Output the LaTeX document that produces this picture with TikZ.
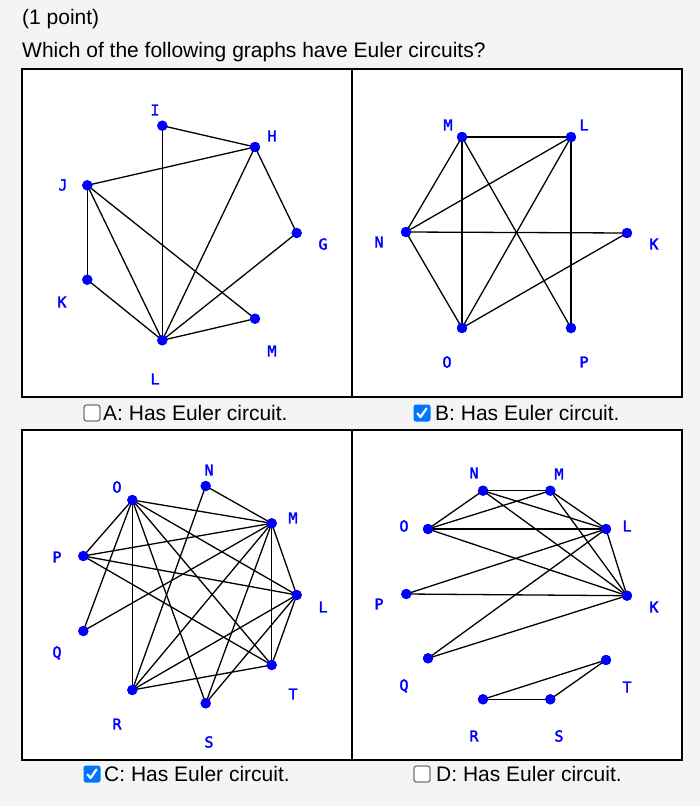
\documentclass[tikz,border=0pt]{standalone}
\usepackage{fontspec}
\setmainfont{Liberation Sans}
\newfontfamily\lblfont{DejaVu Sans Mono}[FakeBold=2.5]
\definecolor{pagebg}{HTML}{F4F4F4}
\definecolor{vblue}{HTML}{0000FF}
\definecolor{chkblue}{HTML}{0075FF}
\definecolor{boxgray}{HTML}{767676}
\begin{document}
\begin{tikzpicture}[x=1pt,y=-1pt,
  vtx/.style={circle,fill=vblue,inner sep=0pt,minimum size=10pt},
  lbl/.style={text=vblue,font=\lblfont\fontsize{15}{15}\selectfont,inner sep=0pt},
  edge/.style={line width=1.3pt,black},
  panel/.style={draw=black,line width=1.8pt,fill=white},
  txt/.style={font=\fontsize{21}{25}\selectfont,inner sep=0pt,anchor=west,text=black},
  boxoff/.style={draw=boxgray,line width=1.3pt,fill=white,rounded corners=2.5pt,minimum size=16pt,inner sep=0pt},
  boxon/.style={fill=chkblue,rounded corners=2.5pt,minimum size=17pt,inner sep=0pt}
]
\fill[pagebg] (0,0) rectangle (700,806);
\useasboundingbox (0,0) rectangle (700,806);

\node[txt] (t1) at (22,19) {(1 point)};
\node[txt] (t2) at (22,52) {Which of the following graphs have Euler circuits?};

% panels
\draw[panel] (22,69) rectangle (352,397);
\draw[panel] (352,69) rectangle (682,397);
\draw[panel] (22,430) rectangle (352,760);
\draw[panel] (352,430) rectangle (682,760);

% ---------- Panel A ----------
\node[vtx] (aI) at (162.3,125.7) {};
\node[vtx] (aH) at (255,147) {};
\node[vtx] (aJ) at (87.3,185.3) {};
\node[vtx] (aG) at (296.7,233) {};
\node[vtx] (aK) at (87.3,279.7) {};
\node[vtx] (aM) at (255,318.7) {};
\node[vtx] (aL) at (162.3,340.3) {};
\node[lbl] (laI) at (155,110) {I};
\node[lbl] (laH) at (272,136) {H};
\node[lbl] (laJ) at (63,185) {J};
\node[lbl] (laG) at (323,244) {G};
\node[lbl] (laK) at (62,302) {K};
\node[lbl] (laM) at (272,351) {M};
\node[lbl] (laL) at (155,379) {L};
\draw[edge] (aI.center) -- (aH.center);
\draw[edge] (aI.center) -- (aL.center);
\draw[edge] (aH.center) -- (aJ.center);
\draw[edge] (aH.center) -- (aL.center);
\draw[edge] (aH.center) -- (aG.center);
\draw[edge] (aJ.center) -- (aK.center);
\draw[edge] (aJ.center) -- (aL.center);
\draw[edge] (aJ.center) -- (aM.center);
\draw[edge] (aK.center) -- (aL.center);
\draw[edge] (aG.center) -- (aL.center);
\draw[edge] (aM.center) -- (aL.center);

% ---------- Panel B ----------
\node[vtx] (bM) at (462,137) {};
\node[vtx] (bL) at (571,137) {};
\node[vtx] (bN) at (406,232) {};
\node[vtx] (bK) at (627,233) {};
\node[vtx] (bO) at (462,328) {};
\node[vtx] (bP) at (571,328) {};
\node[lbl] (lbM) at (448,125) {M};
\node[lbl] (lbL) at (584,125) {L};
\node[lbl] (lbN) at (379,242) {N};
\node[lbl] (lbK) at (654,244) {K};
\node[lbl] (lbO) at (447,362) {O};
\node[lbl] (lbP) at (584,362) {P};
\draw[edge] (bM.center) -- (bL.center);
\draw[edge] (bM.center) -- (bN.center);
\draw[edge] (bM.center) -- (bO.center);
\draw[edge] (bM.center) -- (bP.center);
\draw[edge] (bL.center) -- (bN.center);
\draw[edge] (bL.center) -- (bO.center);
\draw[edge] (bL.center) -- (bP.center);
\draw[edge] (bN.center) -- (bK.center);
\draw[edge] (bN.center) -- (bO.center);
\draw[edge] (bO.center) -- (bK.center);

% ---------- Panel C ----------
\node[vtx] (cN) at (205.7,486) {};
\node[vtx] (cO) at (132.3,500) {};
\node[vtx] (cM) at (271.7,523.3) {};
\node[vtx] (cP) at (83.3,556) {};
\node[vtx] (cL) at (296.7,595) {};
\node[vtx] (cQ) at (83.3,631) {};
\node[vtx] (cT) at (271.7,665) {};
\node[vtx] (cR) at (132.3,690) {};
\node[vtx] (cS) at (205.7,703.3) {};
\node[lbl] (lcN) at (209,470) {N};
\node[lbl] (lcO) at (117,487) {O};
\node[lbl] (lcM) at (293,518) {M};
\node[lbl] (lcP) at (57,557) {P};
\node[lbl] (lcL) at (323,607) {L};
\node[lbl] (lcQ) at (57,653) {Q};
\node[lbl] (lcT) at (293,694) {T};
\node[lbl] (lcR) at (117,724) {R};
\node[lbl] (lcS) at (209,742) {S};
\draw[edge] (cN.center) -- (cM.center);
\draw[edge] (cN.center) -- (cR.center);
\draw[edge] (cO.center) -- (cM.center);
\draw[edge] (cO.center) -- (cL.center);
\draw[edge] (cO.center) -- (cT.center);
\draw[edge] (cO.center) -- (cS.center);
\draw[edge] (cO.center) -- (cR.center);
\draw[edge] (cO.center) -- (cQ.center);
\draw[edge] (cO.center) -- (cP.center);
\draw[edge] (cP.center) -- (cM.center);
\draw[edge] (cP.center) -- (cL.center);
\draw[edge] (cP.center) -- (cT.center);
\draw[edge] (cQ.center) -- (cM.center);
\draw[edge] (cM.center) -- (cR.center);
\draw[edge] (cM.center) -- (cS.center);
\draw[edge] (cM.center) -- (cT.center);
\draw[edge] (cM.center) -- (cL.center);
\draw[edge] (cL.center) -- (cR.center);
\draw[edge] (cL.center) -- (cS.center);
\draw[edge] (cL.center) -- (cT.center);
\draw[edge] (cR.center) -- (cT.center);

% ---------- Panel D ----------
\node[vtx] (dN) at (483,490.7) {};
\node[vtx] (dM) at (550.3,490.7) {};
\node[vtx] (dO) at (428,529) {};
\node[vtx] (dL) at (606,529) {};
\node[vtx] (dP) at (406.3,594) {};
\node[vtx] (dK) at (627,595.7) {};
\node[vtx] (dQ) at (428,658.3) {};
\node[vtx] (dT) at (606,660) {};
\node[vtx] (dR) at (483,699.3) {};
\node[vtx] (dS) at (550.3,699.3) {};
\node[lbl] (ldN) at (474,473) {N};
\node[lbl] (ldM) at (559,474) {M};
\node[lbl] (ldO) at (404,526) {O};
\node[lbl] (ldL) at (627,526) {L};
\node[lbl] (ldP) at (379,604) {P};
\node[lbl] (ldK) at (654,607) {K};
\node[lbl] (ldQ) at (404,686) {Q};
\node[lbl] (ldT) at (627,687) {T};
\node[lbl] (ldR) at (474,736) {R};
\node[lbl] (ldS) at (559,736) {S};
\draw[edge] (dN.center) -- (dM.center);
\draw[edge] (dN.center) -- (dO.center);
\draw[edge] (dN.center) -- (dL.center);
\draw[edge] (dN.center) -- (dK.center);
\draw[edge] (dM.center) -- (dO.center);
\draw[edge] (dM.center) -- (dL.center);
\draw[edge] (dM.center) -- (dK.center);
\draw[edge] (dO.center) -- (dL.center);
\draw[edge] (dO.center) -- (dK.center);
\draw[edge] (dL.center) -- (dP.center);
\draw[edge] (dL.center) -- (dQ.center);
\draw[edge] (dL.center) -- (dK.center);
\draw[edge] (dP.center) -- (dK.center);
\draw[edge] (dQ.center) -- (dK.center);
\draw[edge] (dR.center) -- (dS.center);
\draw[edge] (dR.center) -- (dT.center);
\draw[edge] (dS.center) -- (dT.center);

% redraw vertices on top of edges
\foreach \v in {aI,aH,aJ,aG,aK,aM,aL,bM,bL,bN,bK,bO,bP,cN,cO,cM,cP,cL,cQ,cT,cR,cS,dN,dM,dO,dL,dP,dK,dQ,dT,dR,dS}
  \fill[vblue] (\v) circle (5.2pt);

% ---------- captions ----------
\node[boxoff] (boxA) at (92,413) {};
\node[txt] (capA) at (103,413) {A: Has Euler circuit.};
\node[boxon] (boxB) at (422,413) {};
\draw[white,line width=2.2pt,line cap=round,line join=round] ([shift={(-4.5,0.5)}]boxB.center) -- ([shift={(-1.5,4)}]boxB.center) -- ([shift={(4.5,-4.5)}]boxB.center);
\node[txt] (capB) at (435,413) {B: Has Euler circuit.};
\node[boxon] (boxC) at (92,774) {};
\draw[white,line width=2.2pt,line cap=round,line join=round] ([shift={(-4.5,0.5)}]boxC.center) -- ([shift={(-1.5,4)}]boxC.center) -- ([shift={(4.5,-4.5)}]boxC.center);
\node[txt] (capC) at (104,774) {C: Has Euler circuit.};
\node[boxoff] (boxD) at (422,774) {};
\node[txt] (capD) at (436,774) {D: Has Euler circuit.};
\end{tikzpicture}
\end{document}
